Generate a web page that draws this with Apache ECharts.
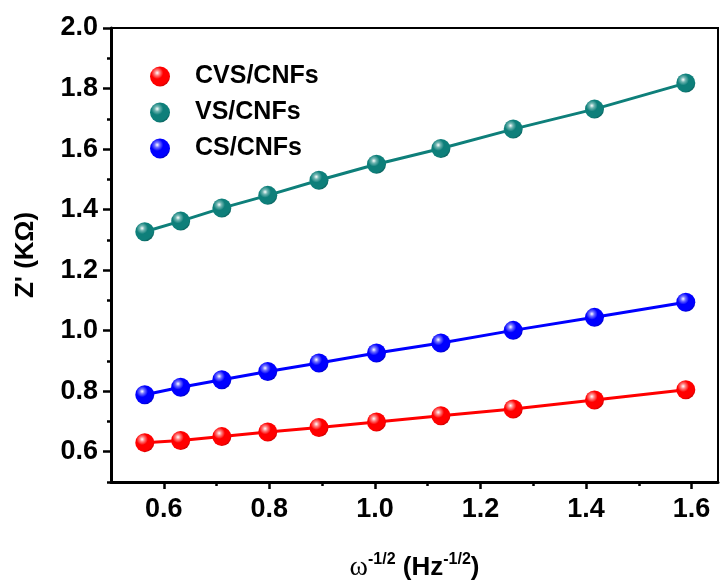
<!DOCTYPE html>
<html>
<head>
<meta charset="utf-8">
<script src="https://cdn.jsdelivr.net/npm/echarts@6/dist/echarts.min.js"></script>
<style>html,body{margin:0;padding:0;background:#fff}#c{width:721px;height:588px}</style>
</head>
<body>
<div id="c"></div>
<script>
// Data
const xValues = [0.564, 0.632, 0.710, 0.797, 0.894, 1.003, 1.125, 1.262, 1.416, 1.589];
const cvsCNFs = [0.630, 0.637, 0.650, 0.665, 0.680, 0.698, 0.719, 0.741, 0.771, 0.805];
const vsCNFs  = [1.327, 1.362, 1.405, 1.447, 1.497, 1.550, 1.602, 1.666, 1.732, 1.818];
const csCNFs  = [0.788, 0.813, 0.838, 0.865, 0.893, 0.926, 0.959, 1.001, 1.044, 1.094];
const seriesNames = ['CVS/CNFs', 'VS/CNFs', 'CS/CNFs'];
const xMajorTicks = [0.6, 0.8, 1.0, 1.2, 1.4, 1.6];
const xMinorTicks = [0.7, 0.9, 1.1, 1.3, 1.5];
const yMajorTicks = [0.6, 0.8, 1.0, 1.2, 1.4, 1.6, 1.8, 2.0];
const yMinorTicks = [0.5, 0.7, 0.9, 1.1, 1.3, 1.5, 1.7, 1.9];

const colors = {base: ['#ff0000', '#0e7f7a', '#0000ff'],
                light: ['#ff8080', '#6fb5b1', '#7070ff'],
                dark: ['#c80000', '#0a605c', '#0000c0']};

function sphere(i) {
  return {
    type: 'radial', x: 0.36, y: 0.32, r: 0.72,
    colorStops: [
      {offset: 0, color: '#ffffff'},
      {offset: 0.18, color: colors.light[i]},
      {offset: 0.42, color: colors.base[i]},
      {offset: 0.85, color: colors.base[i]},
      {offset: 1, color: colors.dark[i]}
    ]
  };
}

const chart = echarts.init(document.getElementById('c'), null, {renderer: 'canvas'});
const FONT = 'Liberation Sans, Arial, sans-serif';
const datasets = [cvsCNFs, vsCNFs, csCNFs];

const series = datasets.map((d, i) => ({
  name: seriesNames[i],
  type: 'line',
  data: xValues.map((x, k) => [x, d[k]]),
  symbol: 'circle',
  symbolSize: 19,
  lineStyle: {color: colors.base[i], width: 3},
  itemStyle: {color: sphere(i)},
  z: 3
}));

const xAxisBase = {
  type: 'value', min: 0.5, max: 1.65, position: 'bottom',
  splitLine: {show: false}
};
const yAxisBase = {
  type: 'value', min: 0.5, max: 2.0, position: 'left',
  splitLine: {show: false}
};

chart.setOption({
  backgroundColor: '#ffffff',
  animation: false,
  grid: {left: 111, right: 3, top: 28, bottom: 106, show: true,
         borderColor: '#000', borderWidth: 2, backgroundColor: 'transparent'},
  legend: {
    orient: 'vertical', left: 145, top: 59, itemWidth: 20, itemHeight: 20, itemGap: 11,
    icon: 'circle',
    data: seriesNames,
    textStyle: {fontFamily: FONT, fontWeight: 'bold', fontSize: 25, color: '#000', padding: [0, 0, 0, 20]}
  },
  xAxis: [
    Object.assign({}, xAxisBase, {
      name: '{w|ω}{sup|-1/2}{t| (Hz}{sup|-1/2}{t|)}',
      nameLocation: 'middle', nameGap: 70,
      nameTextStyle: {
        rich: {
          w: {fontFamily: 'Liberation Serif, serif', fontSize: 28, color: '#000'},
          t: {fontFamily: FONT, fontWeight: 'bold', fontSize: 26, color: '#000'},
          sup: {fontFamily: FONT, fontWeight: 'bold', fontSize: 16, color: '#000', padding: [0, 0, 16, 0]}
        }
      },
      axisLine: {show: true, onZero: false, lineStyle: {color: '#000', width: 3}},
      axisTick: {show: true, length: 7, lineStyle: {color: '#000', width: 2.5}, customValues: xMajorTicks},
      axisLabel: {show: true, margin: 14, fontFamily: FONT, fontWeight: 'bold', fontSize: 27, color: '#000',
                  customValues: xMajorTicks, formatter: v => v.toFixed(1)}
    }),
    Object.assign({}, xAxisBase, {
      axisLine: {show: false},
      axisTick: {show: true, length: 4, lineStyle: {color: '#000', width: 2.5}, customValues: xMinorTicks},
      axisLabel: {show: false}
    })
  ],
  yAxis: [
    Object.assign({}, yAxisBase, {
      name: "Z' (KΩ)",
      nameLocation: 'middle', nameGap: 72, nameRotate: 90,
      nameTextStyle: {fontFamily: FONT, fontWeight: 'bold', fontSize: 26, color: '#000'},
      axisLine: {show: true, onZero: false, lineStyle: {color: '#000', width: 3}},
      axisTick: {show: true, length: 8, lineStyle: {color: '#000', width: 2.5}, customValues: yMajorTicks},
      axisLabel: {show: true, margin: 13, fontFamily: FONT, fontWeight: 'bold', fontSize: 27, color: '#000',
                  customValues: yMajorTicks, formatter: v => v.toFixed(1)}
    }),
    Object.assign({}, yAxisBase, {
      axisLine: {show: false},
      axisTick: {show: true, length: 4, lineStyle: {color: '#000', width: 2.5}, customValues: yMinorTicks},
      axisLabel: {show: false}
    })
  ],
  series: series
});
</script>
</body>
</html>
